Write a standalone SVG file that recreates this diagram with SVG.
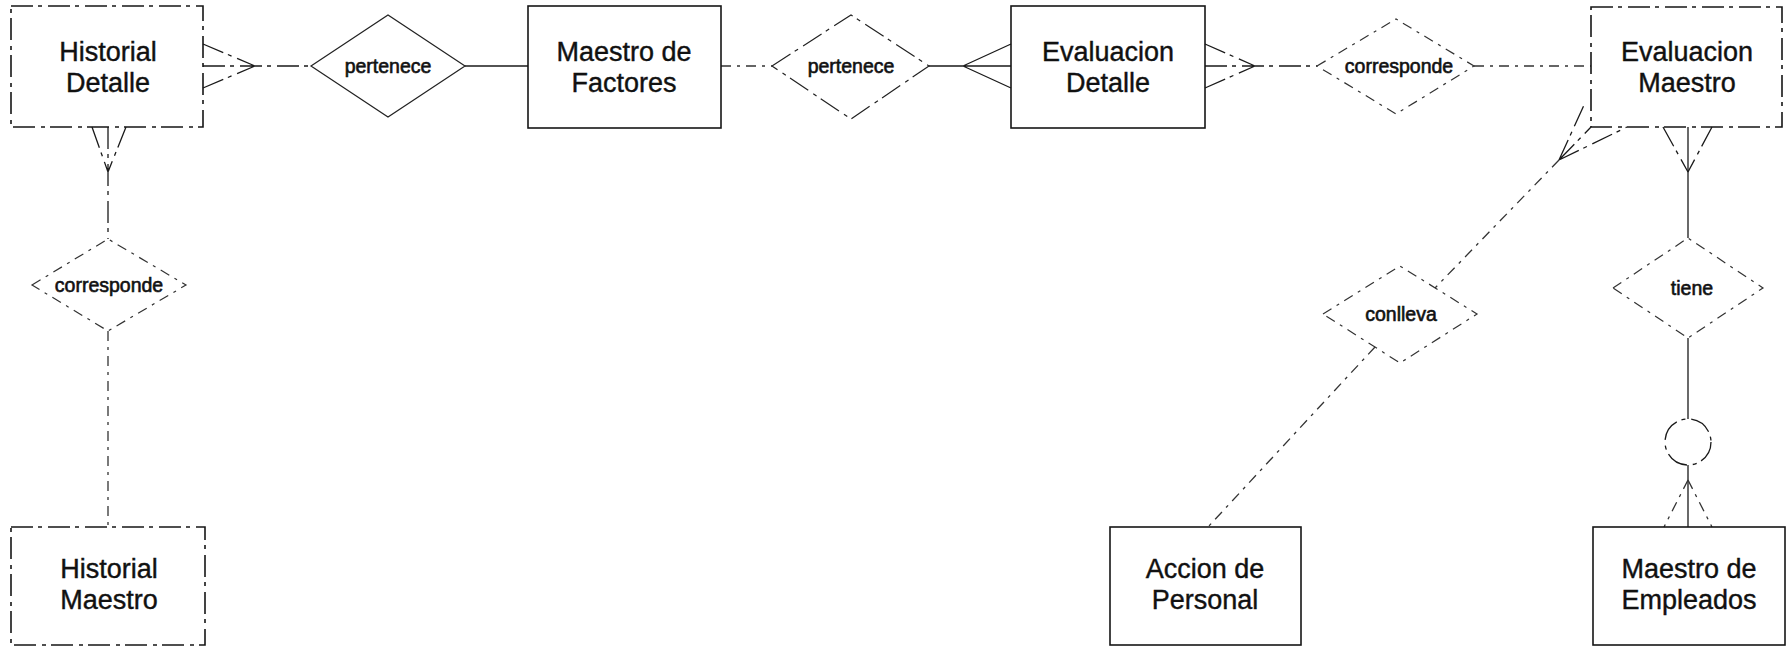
<svg xmlns="http://www.w3.org/2000/svg" width="1788" height="646" viewBox="0 0 1788 646">
  <style>
    .ent { fill: none; stroke: #161616; stroke-width: 1.6; }
    .rel { fill: none; stroke: #222; stroke-width: 1.2; }
    .ln { fill: none; stroke: #1a1a1a; stroke-width: 1.3; }
    .worn { stroke-dasharray: 22 5 4 6; }
    .thin { stroke-dasharray: 10 6 3 6; stroke: #333; }
    .lbl { font-family: "Liberation Sans", Arial, sans-serif; font-size: 27px; fill: #111; stroke: #111; stroke-width: 0.4; text-anchor: middle; }
    .rlbl { font-family: "Liberation Sans", Arial, sans-serif; font-size: 19.5px; fill: #111; stroke: #111; stroke-width: 0.6; text-anchor: middle; }
  </style>

  <rect width="1788" height="646" fill="#ffffff"/>

  <!-- connectors -->
  <g id="connectors">
    <!-- Historial Detalle : pertenece -->
    <path class="ln worn" d="M203,44 L255,66 M203,66 L311,66 M203,88 L255,66"/>
    <!-- pertenece : Maestro de Factores -->
    <path class="ln" d="M465,66 L528,66"/>
    <!-- Maestro de Factores : pertenece -->
    <path class="ln thin" d="M721,66 L772,66"/>
    <!-- pertenece : Evaluacion Detalle (many) -->
    <path class="ln" d="M929,66 L1011,66 M963,66 L1011,44 M963,66 L1011,88"/>
    <!-- Evaluacion Detalle (many) : corresponde -->
    <path class="ln worn" d="M1205,44 L1255,66 M1205,66 L1317,66 M1205,88 L1255,66"/>
    <!-- corresponde : Evaluacion Maestro -->
    <path class="ln thin" d="M1474,66 L1591,66"/>
    <!-- Evaluacion Maestro (many) : conlleva -->
    <path class="ln worn" d="M1559,160 L1585,103 M1559,160 L1591,127 M1559,160 L1627,127"/>
    <path class="ln thin" d="M1559,160 L1435,288"/>
    <!-- conlleva : Accion de Personal -->
    <path class="ln thin" d="M1375,347 L1208,527"/>
    <!-- Evaluacion Maestro (many) : tiene -->
    <path class="ln worn" d="M1663,127 L1688,172 M1712,127 L1688,172"/>
    <path class="ln" d="M1688,127 L1688,238"/>
    <!-- tiene : optional : Maestro de Empleados (many) -->
    <path class="ln" d="M1688,338 L1688,419"/>
    <circle class="ln worn" cx="1688" cy="442" r="23"/>
    <path class="ln" d="M1688,465 L1688,527"/>
    <path class="ln thin" d="M1688,480 L1712,527 M1688,480 L1664,527"/>
    <!-- Historial Detalle (many) : corresponde -->
    <path class="ln worn" d="M92,127 L108,172 M126,127 L108,172 M108,127 L108,239"/>
    <!-- corresponde : Historial Maestro -->
    <path class="ln thin" d="M108,331 L108,527"/>
  </g>

  <!-- entities -->
  <g id="historial-detalle">
    <rect class="ent worn" x="11" y="6" width="192" height="121"/>
    <text class="lbl" x="108" y="61">Historial</text>
    <text class="lbl" x="108" y="92">Detalle</text>
  </g>
  <g id="maestro-factores">
    <rect class="ent" x="528" y="6" width="193" height="122"/>
    <text class="lbl" x="624" y="61">Maestro de</text>
    <text class="lbl" x="624" y="92">Factores</text>
  </g>
  <g id="evaluacion-detalle">
    <rect class="ent" x="1011" y="6" width="194" height="122"/>
    <text class="lbl" x="1108" y="61">Evaluacion</text>
    <text class="lbl" x="1108" y="92">Detalle</text>
  </g>
  <g id="evaluacion-maestro">
    <rect class="ent worn" x="1591" y="7" width="191" height="120"/>
    <text class="lbl" x="1687" y="61">Evaluacion</text>
    <text class="lbl" x="1687" y="92">Maestro</text>
  </g>
  <g id="historial-maestro">
    <rect class="ent worn" x="11" y="527" width="194" height="118"/>
    <text class="lbl" x="109" y="578">Historial</text>
    <text class="lbl" x="109" y="609">Maestro</text>
  </g>
  <g id="accion-personal">
    <rect class="ent" x="1110" y="527" width="191" height="118"/>
    <text class="lbl" x="1205" y="578">Accion de</text>
    <text class="lbl" x="1205" y="609">Personal</text>
  </g>
  <g id="maestro-empleados">
    <rect class="ent" x="1593" y="527" width="192" height="118"/>
    <text class="lbl" x="1689" y="578">Maestro de</text>
    <text class="lbl" x="1689" y="609">Empleados</text>
  </g>

  <!-- relationships -->
  <g id="rel-pertenece-1">
    <polygon class="rel" points="311,66 388,15 465,66 388,117"/>
    <text class="rlbl" x="388" y="73">pertenece</text>
  </g>
  <g id="rel-pertenece-2">
    <polygon class="rel worn" points="772,66 851,15 929,66 851,119"/>
    <text class="rlbl" x="851" y="73">pertenece</text>
  </g>
  <g id="rel-corresponde-1">
    <polygon class="rel thin" points="1317,66 1396,19 1474,66 1396,114"/>
    <text class="rlbl" x="1399" y="73">corresponde</text>
  </g>
  <g id="rel-corresponde-2">
    <polygon class="rel thin" points="32,285 108,239 186,285 108,331"/>
    <text class="rlbl" x="109" y="292">corresponde</text>
  </g>
  <g id="rel-conlleva">
    <polygon class="rel thin" points="1323,314 1400,266 1477,314 1400,363"/>
    <text class="rlbl" x="1401" y="321">conlleva</text>
  </g>
  <g id="rel-tiene">
    <polygon class="rel thin" points="1613,288 1688,238 1763,288 1688,338"/>
    <text class="rlbl" x="1692" y="295">tiene</text>
  </g>
</svg>
